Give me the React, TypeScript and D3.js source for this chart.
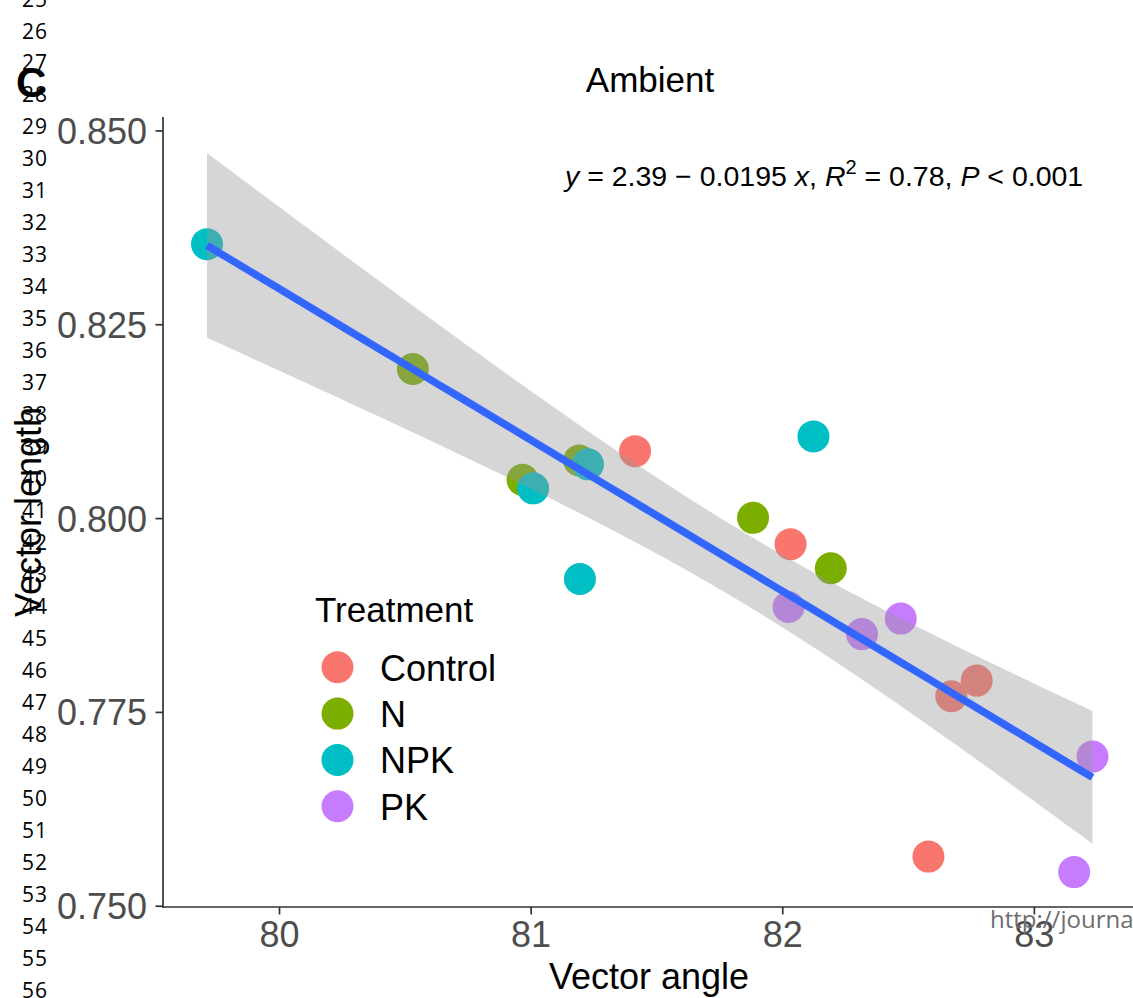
import React from "react";
import * as d3 from "d3";

// ---- data ----
const treatments = ["Control", "N", "NPK", "PK"];
const treatmentColors = ["#F8766D", "#7CAE00", "#00BFC4", "#C77CFF"];

const controlAngle = [81.413, 82.031, 82.67, 82.771, 82.579];
const controlLength = [0.8087, 0.7967, 0.7771, 0.7791, 0.7564];
const nAngle = [80.53, 80.966, 81.191, 81.882, 82.191];
const nLength = [0.8193, 0.805, 0.8075, 0.8001, 0.7936];
const npkAngle = [79.712, 81.008, 81.226, 81.194, 82.122];
const npkLength = [0.8354, 0.8039, 0.807, 0.7922, 0.8106];
const pkAngle = [82.023, 82.315, 82.469, 83.231, 83.158];
const pkLength = [0.7886, 0.7851, 0.7871, 0.7693, 0.7544];

const xTicks = [80, 81, 82, 83];
const yTicks = [0.75, 0.775, 0.8, 0.825, 0.85];
const lineNumbers = d3.range(25, 57);

const T_975_DF18 = 2.1009;

const groups = [
  { name: treatments[0], color: treatmentColors[0], xs: controlAngle, ys: controlLength },
  { name: treatments[1], color: treatmentColors[1], xs: nAngle, ys: nLength },
  { name: treatments[2], color: treatmentColors[2], xs: npkAngle, ys: npkLength },
  { name: treatments[3], color: treatmentColors[3], xs: pkAngle, ys: pkLength },
];

const points = groups.flatMap((g) =>
  g.xs.map((x, i) => ({ x, y: g.ys[i], color: g.color }))
);

// ---- layout ----
const W = 1133;
const H = 998;
const panel = { left: 163, right: 1133, top: 117, bottom: 907 };

const xScale = d3.scaleLinear().domain([79.537, 83.392]).range([panel.left, panel.right]);
const yScale = d3.scaleLinear().domain([0.7499, 0.8518]).range([panel.bottom, panel.top]);

// ---- linear model fit (geom_smooth(method = "lm")) ----
function fitLm() {
  const n = points.length;
  const mx = d3.mean(points, (p) => p.x) as number;
  const my = d3.mean(points, (p) => p.y) as number;
  const sxx = d3.sum(points, (p) => (p.x - mx) ** 2);
  const sxy = d3.sum(points, (p) => (p.x - mx) * (p.y - my));
  const b = sxy / sxx;
  const a = my - b * mx;
  const sse = d3.sum(points, (p) => (p.y - (a + b * p.x)) ** 2);
  const s = Math.sqrt(sse / (n - 2));
  const [x0, x1] = d3.extent(points, (p) => p.x) as [number, number];
  const grid = d3.range(80).map((i) => x0 + ((x1 - x0) * i) / 79);
  return grid.map((x) => {
    const fit = a + b * x;
    const se = s * Math.sqrt(1 / n + (x - mx) ** 2 / sxx);
    return { x, fit, lo: fit - T_975_DF18 * se, hi: fit + T_975_DF18 * se };
  });
}

const band = fitLm();

const areaGen = d3
  .area<{ x: number; lo: number; hi: number }>()
  .x((d) => xScale(d.x))
  .y0((d) => yScale(d.lo))
  .y1((d) => yScale(d.hi));

const lineGen = d3
  .line<{ x: number; fit: number }>()
  .x((d) => xScale(d.x))
  .y((d) => yScale(d.fit));

const SANS = "'Liberation Sans', Arial, Helvetica, sans-serif";
const AXIS = "#333333";
const TICKTEXT = "#4D4D4D";

export default function App() {
  const legendY0 = 667.3;
  const legendStep = 46.3;
  return (
    <svg
      width={W}
      height={H}
      viewBox={`0 0 ${W} ${H}`}
      style={{ position: "absolute", left: 0, top: 0, background: "#fff" }}
      fontFamily={SANS}
    >
      <rect x={0} y={0} width={W} height={H} fill="#fff" />

      {/* points */}
      {points.map((p, i) => (
        <circle key={i} cx={xScale(p.x)} cy={yScale(p.y)} r={16} fill={p.color} />
      ))}

      {/* confidence ribbon */}
      <path d={areaGen(band) as string} fill="#999999" fillOpacity={0.4} stroke="none" />
      {/* fitted line */}
      <path d={lineGen(band) as string} fill="none" stroke="#3366FF" strokeWidth={7.5} />

      {/* axes */}
      <line x1={panel.left} x2={panel.left} y1={panel.top} y2={panel.bottom + 0.8} stroke={AXIS} strokeWidth={1.7} />
      <line x1={panel.left - 0.8} x2={panel.right} y1={panel.bottom} y2={panel.bottom} stroke={AXIS} strokeWidth={1.7} />
      {yTicks.map((t) => (
        <g key={t}>
          <line x1={panel.left - 7.5} x2={panel.left} y1={yScale(t)} y2={yScale(t)} stroke={AXIS} strokeWidth={1.7} />
          <text x={147} y={yScale(t) + 13} textAnchor="end" fontSize={36} fill={TICKTEXT}>
            {d3.format(".3f")(t)}
          </text>
        </g>
      ))}
      {xTicks.map((t) => (
        <g key={t}>
          <line x1={xScale(t)} x2={xScale(t)} y1={panel.bottom} y2={panel.bottom + 7.5} stroke={AXIS} strokeWidth={1.7} />
          <text x={xScale(t)} y={947} textAnchor="middle" fontSize={36} fill={TICKTEXT}>
            {t}
          </text>
        </g>
      ))}

      {/* axis titles */}
      <text x={649} y={989} textAnchor="middle" fontSize={36} fill="#000">
        Vector angle
      </text>
      <text transform="translate(41,512) rotate(-90)" textAnchor="middle" fontSize={36} fill="#000">
        Vector length
      </text>

      {/* plot title */}
      <text x={650} y={92} textAnchor="middle" fontSize={35} fill="#000">
        Ambient
      </text>

      {/* regression equation */}
      <text x={565} y={186} fontSize={28.5} fill="#000">
        <tspan fontStyle="italic">y</tspan>
        <tspan> = 2.39 − 0.0195 </tspan>
        <tspan fontStyle="italic">x</tspan>
        <tspan>, </tspan>
        <tspan fontStyle="italic">R</tspan>
        <tspan fontSize={20} dy={-12}>2</tspan>
        <tspan dy={12}> = 0.78, </tspan>
        <tspan fontStyle="italic">P</tspan>
        <tspan> &lt; 0.001</tspan>
      </text>

      {/* legend */}
      <text x={315} y={622} fontSize={35} fill="#000">
        Treatment
      </text>
      {groups.map((g, i) => (
        <g key={g.name}>
          <circle cx={337.5} cy={legendY0 + i * legendStep} r={16} fill={g.color} />
          <text x={380} y={legendY0 + i * legendStep + 13.5} fontSize={36} fill="#000">
            {g.name}
          </text>
        </g>
      ))}

      {/* panel letter */}
      <text x={16} y={97} fontSize={42} fontWeight="bold" fill="#000">
        C
      </text>

      {/* manuscript line numbers */}
      {lineNumbers.map((n) => (
        <text
          key={n}
          x={22}
          y={38.5 + (n - 26) * 31.98}
          fontSize={21}
          letterSpacing={1}
          fontFamily="'Open Sans', 'Noto Sans', sans-serif"
          fill="#000"
        >
          {n}
        </text>
      ))}

      {/* watermark */}
      <text x={990} y={928} fontSize={24} fontFamily="'Open Sans', 'Noto Sans', sans-serif" fill="#6E6E6E">
        http://journa
      </text>
    </svg>
  );
}
